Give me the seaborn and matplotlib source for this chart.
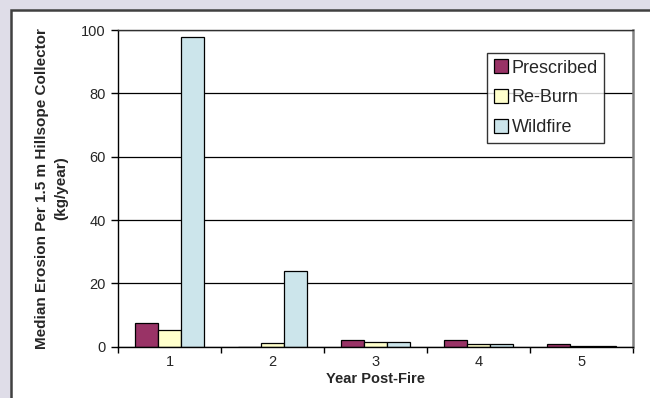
import matplotlib
matplotlib.use("Agg")
import matplotlib.pyplot as plt
from matplotlib.patches import Rectangle
import seaborn as sns
import pandas as pd

years = ["1", "2", "3", "4", "5"]
prescribed = [7.6, 0.0, 2.2, 2.2, 0.7]
reburn = [5.2, 1.1, 1.4, 0.7, 0.3]
wildfire = [97.7, 24.0, 1.4, 0.7, 0.3]
series_names = ["Prescribed", "Re-Burn", "Wildfire"]
colors = ["#993366", "#FFFFCC", "#CCE5EB"]

df = pd.DataFrame({
    "Year": years * 3,
    "Value": prescribed + reburn + wildfire,
    "Type": [series_names[0]] * 5 + [series_names[1]] * 5 + [series_names[2]] * 5,
})

sns.set_style("white")
plt.rcParams["font.family"] = ["Liberation Sans", "DejaVu Sans"]

fig = plt.figure(figsize=(6.5, 3.98), dpi=100, facecolor="#DFDDE8")
panel = Rectangle((11 / 650, -0.05), 1.0, 1 - 10 / 398 + 0.05, transform=fig.transFigure,
                  facecolor="white", edgecolor="#404040", linewidth=1.8, zorder=-10)
fig.patches.append(panel)

ax = fig.add_axes([118 / 650, 1 - 346.7 / 398, (633 - 118) / 650, (346.7 - 30) / 398])
ax.set_zorder(5)
ax.set_facecolor("white")

sns.barplot(data=df, x="Year", y="Value", hue="Type", palette=colors, ax=ax,
            width=0.67, gap=0, edgecolor="black", linewidth=0.9, saturation=1,
            errorbar=None, legend=True)

ax.set_ylim(0, 100)
ax.set_xlim(-0.5, 4.5)
ax.set_yticks([0, 20, 40, 60, 80, 100])
ax.yaxis.grid(True, color="black", linewidth=0.9)
ax.set_axisbelow(True)

for s in ["left", "bottom"]:
    ax.spines[s].set_color("black")
    ax.spines[s].set_linewidth(1.0)
ax.spines["top"].set_color("#303030")
ax.spines["top"].set_linewidth(1.0)
ax.spines["right"].set_color("#808080")
ax.spines["right"].set_linewidth(1.8)

ax.tick_params(axis="y", which="major", direction="out", length=5, width=1, color="black",
               labelsize=10.5, left=True, pad=4)
ax.tick_params(axis="x", which="major", length=0, labelsize=10.5, pad=6)
ax.set_xticks([-0.5, 0.5, 1.5, 2.5, 3.5, 4.5], minor=True)
ax.tick_params(axis="x", which="minor", direction="out", length=4, width=1, color="black", bottom=True)

ax.set_xlabel("Year Post-Fire", fontsize=10.5, fontweight="bold", labelpad=2)
ax.set_ylabel("Median Erosion Per 1.5 m Hillsope Collector\n(kg/year)", fontsize=11,
              fontweight="bold", labelpad=9, linespacing=1.5)

handles, labels = ax.get_legend_handles_labels()
leg = ax.legend(handles, labels, loc="upper right", bbox_to_anchor=(0.944, 0.927),
                frameon=True, fancybox=False, edgecolor="black", fontsize=13,
                handlelength=0.8, handleheight=0.8, handletextpad=0.2,
                labelspacing=0.7, borderpad=0.35, borderaxespad=0)
leg.get_frame().set_linewidth(1.0)

fig.savefig("out.png", dpi=100, facecolor=fig.get_facecolor())
